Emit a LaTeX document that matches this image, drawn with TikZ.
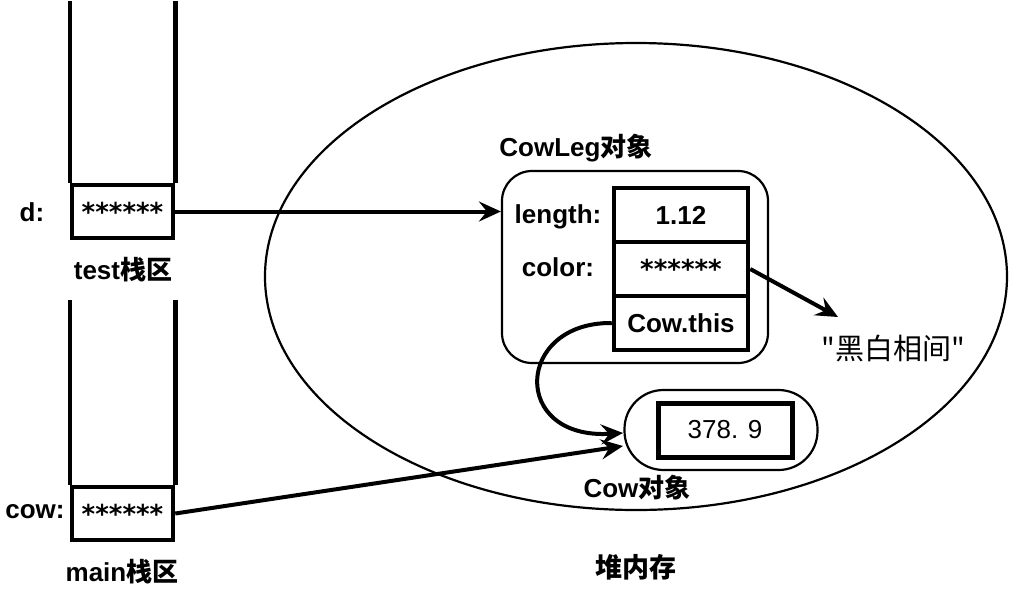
\documentclass[tikz,border=0pt]{standalone}
\usepackage{fontspec}
\setmainfont{Liberation Sans}
\newfontfamily\dejavu{DejaVu Sans}
\newfontfamily\cjk{Noto Sans CJK SC}
\usetikzlibrary{arrows.meta,shapes.geometric}
\begin{document}
\begin{tikzpicture}[x=1pt,y=-1pt,
 txt/.style={font=\fontsize{26}{30}\selectfont\bfseries, inner sep=0pt},
 stars/.style={font=\dejavu\fontsize{26}{30}\selectfont\bfseries},
 stackline/.style={line width=4.5pt},
 cellbox/.style={draw, line width=4.5pt, minimum width=101pt, minimum height=53pt, inner sep=0pt, stars},
 fieldbox/.style={draw, line width=4.5pt, minimum width=134pt, minimum height=54pt, inner sep=0pt, font=\fontsize{26}{30}\selectfont\bfseries},
 thinbox/.style={draw, line width=2.2pt, inner sep=0pt},
 ptr/.style={line width=4pt, -{Stealth[length=22pt,width=20pt,inset=8pt]}},
]
\useasboundingbox (0,0) rectangle (1021,595);

% heap
\node[thinbox, ellipse, minimum width=742pt, minimum height=467pt] (heap) at (636,276.5) {};

% test stack
\node[cellbox] (dcell) at (122.5,211.5) {******};
\draw[stackline] (dcell.north west) -- ++(0,-182);
\draw[stackline] (dcell.north east) -- ++(0,-182);
\node[txt] (dlab) at (32,212) {d:};
\node[txt] (testlab) at (123,270) {test{\cjk\bfseries 栈区}};

% main stack
\node[cellbox] (maincell) at (122.5,513.5) {******};
\draw[stackline] (maincell.north west) -- ++(0,-185);
\draw[stackline] (maincell.north east) -- ++(0,-185);
\node[txt] (cowlab) at (35,512) {cow:};
\node[txt] (mainlab) at (122,572) {main{\cjk\bfseries 栈区}};

% CowLeg object
\node[thinbox, rounded corners=30pt, minimum width=266pt, minimum height=192pt] (cowleg) at (635,267) {};
\node[txt] (cowleglab) at (576,148) {CowLeg{\cjk\bfseries 对象}};
\node[fieldbox] (lencell) at (681,215) {1.12};
\node[fieldbox, stars] (colcell) at (681,269) {******};
\node[fieldbox] (thiscell) at (681,323) {Cow.this};
\node[txt] (lenlab) at (558,217) {length:};
\node[txt] (collab) at (558,267) {color:};

% Cow object
\node[thinbox, rounded corners=39pt, minimum width=193pt, minimum height=80pt] (cowobj) at (721,430) {};
\node[draw, line width=5pt, minimum width=134pt, minimum height=54pt, inner sep=0pt, font=\fontsize{26}{30}\selectfont] (valcell) at (725,430) {378. 9};
\node[txt] (cowobjlab) at (637,488) {Cow{\cjk\bfseries 对象}};

% heap label and string
\node[txt] (heaplab) at (636,567) {\cjk\bfseries\fontsize{27}{30}\selectfont 堆内存};
\node[inner sep=0pt, font=\cjk\fontsize{29}{32}\selectfont] (str) at (893,348) {"黑白相间"};

% arrows
\coordinate (ctip) at (838,317);
\coordinate (cthis) at (623,433);
\coordinate (ccow) at (623,446);
\draw[ptr] (dcell.east) -- (dcell.east -| cowleg.west);
\draw[ptr] (colcell.east) -- (ctip);
\draw[ptr] (thiscell.west) .. controls (515,322) and (510,440) .. (cthis);
\draw[ptr] (maincell.east) -- (ccow);
\end{tikzpicture}
\end{document}
